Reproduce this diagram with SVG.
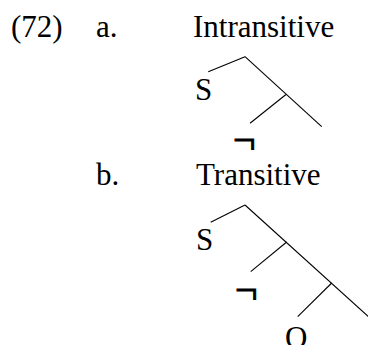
<svg xmlns="http://www.w3.org/2000/svg" width="368" height="345" viewBox="0 0 368 345">
<style>
text{font-family:"Liberation Serif","Times New Roman",serif;font-size:31px;fill:#000}
text.neg{font-size:40px;stroke:#000;stroke-width:1}
line{stroke:#000;stroke-width:1.1}
</style>
<rect width="368" height="345" fill="#fff"/>
<g id="label72"><text x="11" y="37">(72)</text></g>
<g id="a"><text x="96" y="37">a.</text></g>
<g id="intransitive"><text x="193" y="37">Intransitive</text></g>
<g id="b"><text x="96" y="185">b.</text></g>
<g id="transitive"><text x="196" y="185">Transitive</text></g>
<g id="treeA-S"><text x="195" y="100">S</text></g>
<g id="treeA-neg"><text class="neg" x="233" y="153">¬</text></g>
<g id="treeB-S"><text x="196" y="250">S</text></g>
<g id="treeB-neg"><text class="neg" x="235" y="303">¬</text></g>
<g id="treeB-O"><text x="285" y="348">O</text></g>
<g id="connectors">
<line x1="245" y1="56.7" x2="208.3" y2="71.7"/>
<line x1="245" y1="56.7" x2="321.7" y2="126.7"/>
<line x1="286" y1="94.5" x2="250" y2="123.3"/>
<line x1="245" y1="205" x2="210.7" y2="222.3"/>
<line x1="245" y1="205" x2="370" y2="318"/>
<line x1="286.7" y1="242" x2="250.7" y2="271.7"/>
<line x1="331.7" y1="283" x2="297.7" y2="316.7"/>
</g>
</svg>
